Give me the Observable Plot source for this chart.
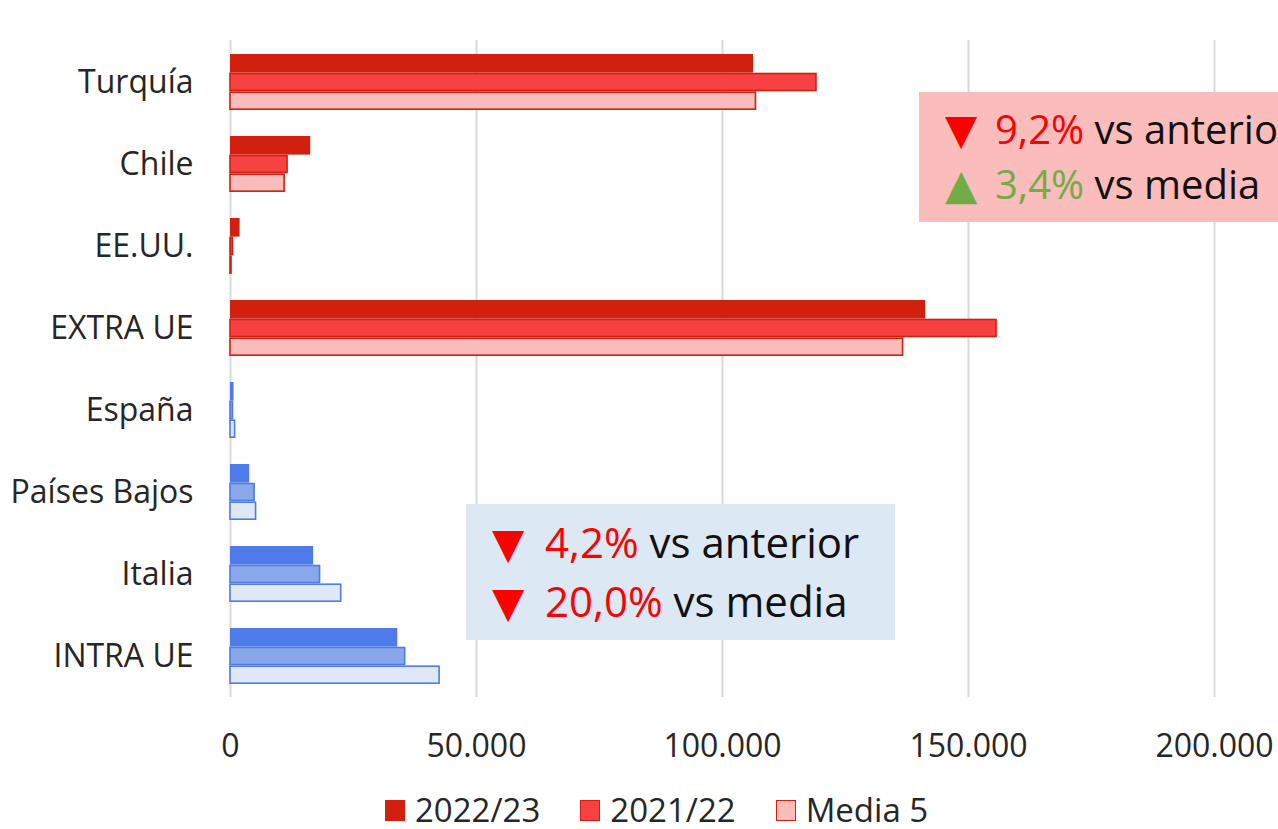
<!DOCTYPE html>
<html>
<head>
<meta charset="utf-8">
<script src="https://cdn.jsdelivr.net/npm/d3@7"></script>
<script src="https://cdn.jsdelivr.net/npm/@observablehq/plot@0.6"></script>
<style>
  html, body { margin: 0; padding: 0; background: #fff; overflow: hidden; }
  body { width: 1278px; height: 829px; position: relative; font-family: "Open Sans", sans-serif; color: #262626; }
  #chart { position: absolute; left: 0; top: 0; }
  .box { position: absolute; overflow: hidden; }
  .line { position: absolute; left: 0; white-space: nowrap; font-size: 42px; line-height: 42px; color: #111; }
  .pink .line { font-size: 40px; line-height: 42px; }
  .tri { display: inline-block; font-family: "DejaVu Sans", sans-serif; }
  .red { color: #FF0000; }
  .green { color: #70AD47; }
  #legend { position: absolute; left: 385px; top: 794px; display: flex; align-items: center; font-size: 33px; line-height: 32px; color: #262626; }
  #legend .item { display: flex; align-items: center; margin-right: 40px; }
  #legend .item span { display: inline-block; height: 32px; line-height: 32px; }
  #legend .sw { width: 20px; height: 21px; margin-right: 10px; box-sizing: border-box; }
</style>
</head>
<body>
<div id="chart"></div>
<div class="box pink" style="left:919px; top:92px; width:359px; height:130px; background:#FBBCBC;">
  <div class="line" style="left:26px; top:16px;"><span class="tri red" style="width:50px; font-size:42px;">▼</span><span class="red">9,2%</span> vs anterior</div>
  <div class="line" style="left:26px; top:71px;"><span class="tri green" style="width:50px; font-size:42px;">▲</span><span class="green">3,4%</span> vs media</div>
</div>
<div class="box" style="left:466px; top:504px; width:429px; height:136px; background:#DDE8F5;">
  <div class="line" style="left:26px; top:17px;"><span class="tri red" style="width:53px;">▼</span><span class="red">4,2%</span> vs anterior</div>
  <div class="line" style="left:26px; top:76px;"><span class="tri red" style="width:53px;">▼</span><span class="red">20,0%</span> vs media</div>
</div>
<div id="legend"></div>
<script>
// ---- data ----
const categories = ["Turquía", "Chile", "EE.UU.", "EXTRA UE", "España", "Países Bajos", "Italia", "INTRA UE"];
const groups = ["extra", "extra", "extra", "extra", "intra", "intra", "intra", "intra"];
const seriesNames = ["2022/23", "2021/22", "Media 5"];
const values2223 = [106300, 16300, 1950, 141300, 730, 3900, 16900, 34000];
const values2122 = [119100, 11600, 500, 155700, 500, 4900, 18200, 35500];
const valuesMedia = [106800, 11000, 200, 136700, 940, 5200, 22500, 42500];
const xTicks = [0, 50000, 100000, 150000, 200000];

// ---- styles ----
const fills = {
  extra: ["#D2200E", "#F84141", "#FBBCBC"],
  intra: ["#4F7AE9", "#88A8EA", "#DEE8F6"]
};
const strokes = { extra: "#D2200E", intra: "#4F7AE9" };

const seriesValues = [values2223, values2122, valuesMedia];
const rows = categories.flatMap((c, i) =>
  seriesNames.map((s, j) => ({ cat: c, group: groups[i], series: s, si: j, value: seriesValues[j][i] }))
);

const W = 1278, H = 780, mTop = 40, mBottom = 83;
const step = (H - mTop - mBottom) / categories.length;
const band = 56 / 82 * step;
const h = band / 3;
const fmt = d => d3.format(",")(d).replace(/,/g, ".");

const barMarks = seriesNames.map((s, j) =>
  Plot.barX(rows.filter(d => d.si === j), {
    x: "value",
    y: "cat",
    fill: d => fills[d.group][j],
    stroke: j === 0 ? "none" : (d => strokes[d.group]),
    strokeWidth: 1.6,
    insetTop: j * h + (j === 0 ? 0 : 0.8),
    insetBottom: (2 - j) * h + (j === 0 ? 0 : 0.8)
  })
);

const chart = Plot.plot({
  width: W,
  height: H,
  marginTop: mTop,
  marginBottom: mBottom,
  marginLeft: 230,
  marginRight: 64,
  style: { fontFamily: "Open Sans, sans-serif", fontSize: "32px", color: "#262626", background: "transparent" },
  x: { domain: [0, 200000], label: null },
  y: { domain: categories, paddingInner: 26 / 82, paddingOuter: 13 / 82, label: null },
  color: { type: "identity" },
  marks: [
    Plot.gridX(xTicks, { stroke: "#D9D9D9", strokeOpacity: 1, strokeWidth: 2 }),
    ...barMarks,
    Plot.axisX(xTicks, { tickSize: 0, tickPadding: 37, tickFormat: fmt, fontSize: 32, label: null }),
    Plot.axisY({ tickSize: 0, tickPadding: 37, fontSize: 32, label: null })
  ]
});
document.getElementById("chart").appendChild(chart);

// ---- legend ----
const legend = document.getElementById("legend");
seriesNames.forEach((s, j) => {
  const item = document.createElement("div");
  item.className = "item";
  const sw = document.createElement("div");
  sw.className = "sw";
  sw.style.background = fills.extra[j];
  if (j > 0) sw.style.border = "1.5px solid " + strokes.extra;
  const t = document.createElement("span");
  t.textContent = s;
  item.appendChild(sw);
  item.appendChild(t);
  legend.appendChild(item);
});
</script>
</body>
</html>
